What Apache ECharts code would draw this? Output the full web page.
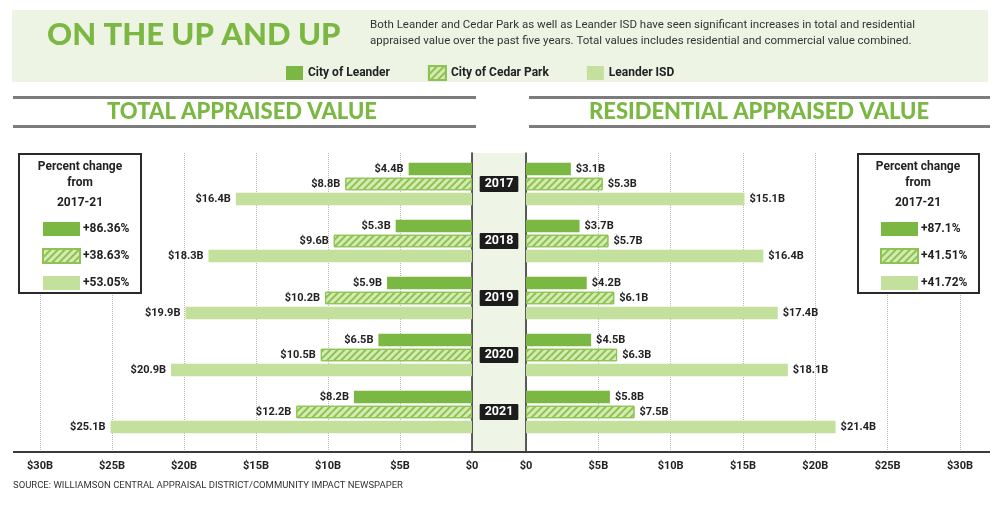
<!DOCTYPE html>
<html>
<head>
<meta charset="utf-8">
<script src="https://cdn.jsdelivr.net/npm/echarts@6/dist/echarts.min.js"></script>
<style>
  html, body { margin: 0; padding: 0; background: #fff; }
  #chart { width: 1000px; height: 505px; }
</style>
</head>
<body>
<div id="chart"></div>
<script>
var years = ['2017', '2018', '2019', '2020', '2021'];
var seriesNames = ['City of Leander', 'City of Cedar Park', 'Leander ISD'];

// total appraised value, $ billions
var totalLeander = [4.4, 5.3, 5.9, 6.5, 8.2];
var totalCedarPark = [8.8, 9.6, 10.2, 10.5, 12.2];
var totalISD = [16.4, 18.3, 19.9, 20.9, 25.1];

// residential appraised value, $ billions
var resLeander = [3.1, 3.7, 4.2, 4.5, 5.8];
var resCedarPark = [5.3, 5.7, 6.1, 6.3, 7.5];
var resISD = [15.1, 16.4, 17.4, 18.1, 21.4];

// percent change 2017-21
var totalPct = ['+86.36%', '+38.63%', '+53.05%'];
var resPct = ['+87.1%', '+41.51%', '+41.72%'];

var axisMax = 30;
var axisStep = 5;

var green = '#7bb743';
var lightGreen = '#c4e09d';
var hatchFill = '#d6eab3';
var hatchLine = '#8cc352';
var txt = '#222';
var condensed = 'Roboto, "Open Sans", sans-serif';
var heavy = 'Lato, "Open Sans", sans-serif';

function money(v) {
	return v === 0 ? '$0' : '$' + v + 'B';
}

var hatchDecal = {
	symbol: 'rect',
	symbolSize: 1,
	dashArrayX: [1, 0],
	dashArrayY: [1.6, 2.2],
	rotation: -Math.PI / 4,
	color: hatchLine
};

function barStyle(i) {
	if (i == 0) return { color: green };
	if (i == 1) return { color: hatchFill, borderColor: hatchLine, borderWidth: 1, decal: hatchDecal };
	return { color: lightGreen };
}

function makeSeries(data, idx, gridIdx, side) {
	return {
		name: seriesNames[idx],
		type: 'bar',
		xAxisIndex: gridIdx,
		yAxisIndex: gridIdx,
		barWidth: 12.5,
		barGap: '20%',
		itemStyle: barStyle(idx),
		label: {
			show: true,
			position: side,
			distance: 5,
			formatter: function (p) { return money(p.value); },
			color: txt,
			fontWeight: 'bold',
			fontSize: 11,
			fontFamily: condensed
		},
		data: data
	};
}

var barTop = 155.5;
var barHeight = 285;
var frameTop = 153;
var frameBottom = 53;

var frameX = {
	type: 'value', min: 0, max: axisMax, interval: axisStep,
	axisLine: { show: false },
	axisTick: { show: false },
	splitLine: { show: true, lineStyle: { type: 'dotted', color: '#b8b8b8', width: 1 } },
	axisLabel: { formatter: money, color: txt, fontWeight: 'bold', fontSize: 11, fontFamily: condensed, margin: 9 }
};

function frameY(pos) {
	return {
		type: 'value', min: 0, max: 1, position: pos,
		axisLine: { show: true, onZero: false, lineStyle: { color: '#2a2a2a', width: 1.5 } },
		axisTick: { show: false }, axisLabel: { show: false }, splitLine: { show: false }
	};
}

function pctLegend(left, labels) {
	return {
		orient: 'vertical',
		left: left, top: 217,
		icon: 'rect',
		itemWidth: 37, itemHeight: 14, itemGap: 12,
		selectedMode: false,
		z: 10,
		data: seriesNames,
		formatter: function (name) { return labels[seriesNames.indexOf(name)]; },
		textStyle: { color: txt, fontWeight: 'bold', fontSize: 12, fontFamily: condensed, padding: [0, 0, 0, -2] }
	};
}

var option = {
	animation: false,
	backgroundColor: '#fff',
	grid: [
		{ left: 40, right: 528, top: barTop, height: barHeight },
		{ left: 526, right: 40, top: barTop, height: barHeight },
		{ left: 40, right: 528, top: frameTop, bottom: frameBottom },
		{ left: 526, right: 40, top: frameTop, bottom: frameBottom }
	],
	xAxis: [
		{ gridIndex: 0, type: 'value', min: 0, max: axisMax, inverse: true, show: false },
		{ gridIndex: 1, type: 'value', min: 0, max: axisMax, show: false },
		Object.assign({ gridIndex: 2, inverse: true }, frameX),
		Object.assign({ gridIndex: 3 }, frameX)
	],
	yAxis: [
		{ gridIndex: 0, type: 'category', inverse: true, data: years, show: false },
		{
			gridIndex: 1, type: 'category', inverse: true, data: years,
			axisLine: { show: false }, axisTick: { show: false },
			axisLabel: {
				align: 'center', margin: 27,
				color: '#fff', backgroundColor: '#1c1c1c',
				padding: [2, 5, 1, 5], borderRadius: 1,
				fontWeight: 'bold', fontSize: 12.5, fontFamily: condensed
			}
		},
		Object.assign({ gridIndex: 2 }, frameY('right')),
		Object.assign({ gridIndex: 3 }, frameY('left'))
	],
	legend: [
		{
			left: 281, top: 60,
			icon: 'rect',
			itemWidth: 17, itemHeight: 14, itemGap: 38,
			selectedMode: false,
			data: seriesNames,
			textStyle: { color: txt, fontWeight: 'bold', fontSize: 12, fontFamily: condensed }
		},
		pctLegend(37, totalPct),
		pctLegend(875, resPct)
	],
	graphic: [
		{ type: 'rect', z: -5, shape: { x: 12, y: 10, width: 976, height: 72 }, style: { fill: '#eef4e4' } },
		{ type: 'text', left: 47, top: 19, style: { text: 'ON THE UP AND UP', fill: green, font: '900 31px ' + heavy } },
		{ type: 'text', left: 370, top: 17, style: { text: 'Both Leander and Cedar Park as well as Leander ISD have seen significant increases in total and residential\nappraised value over the past five years. Total values includes residential and commercial value combined.', fill: '#333', font: '11.5px ' + condensed, lineHeight: 16 } },

		{ type: 'rect', shape: { x: 13, y: 96, width: 463, height: 3 }, style: { fill: '#7c7c7c' } },
		{ type: 'rect', shape: { x: 13, y: 125, width: 463, height: 3 }, style: { fill: '#7c7c7c' } },
		{ type: 'rect', shape: { x: 529, y: 96, width: 461, height: 3 }, style: { fill: '#7c7c7c' } },
		{ type: 'rect', shape: { x: 529, y: 125, width: 461, height: 3 }, style: { fill: '#7c7c7c' } },
		{ type: 'text', x: 242, y: 112, style: { text: 'TOTAL APPRAISED VALUE', fill: green, font: '900 22px ' + heavy, align: 'center', verticalAlign: 'middle' } },
		{ type: 'text', x: 759, y: 112, style: { text: 'RESIDENTIAL APPRAISED VALUE', fill: green, font: '900 22px ' + heavy, align: 'center', verticalAlign: 'middle' } },

		{ type: 'rect', z: -1, shape: { x: 473, y: 153, width: 53, height: 299 }, style: { fill: '#eef5e6' } },
		{ type: 'rect', z: 5, shape: { x: 13, y: 451, width: 977, height: 2 }, style: { fill: '#3a3a3a' } },

		{ type: 'rect', z: 5, shape: { x: 19, y: 154, width: 122, height: 139 }, style: { fill: '#fff', stroke: '#2a2a2a', lineWidth: 2 } },
		{ type: 'text', z: 6, x: 80, y: 175, style: { text: 'Percent change\nfrom', fill: txt, font: 'bold 12px ' + condensed, align: 'center', verticalAlign: 'middle', lineHeight: 16 } },
		{ type: 'text', z: 6, x: 80, y: 203, style: { text: '2017-21', fill: txt, font: 'bold 12px ' + condensed, align: 'center', verticalAlign: 'middle' } },
		{ type: 'rect', z: 5, shape: { x: 858, y: 154, width: 121, height: 139 }, style: { fill: '#fff', stroke: '#2a2a2a', lineWidth: 2 } },
		{ type: 'text', z: 6, x: 918, y: 175, style: { text: 'Percent change\nfrom', fill: txt, font: 'bold 12px ' + condensed, align: 'center', verticalAlign: 'middle', lineHeight: 16 } },
		{ type: 'text', z: 6, x: 918, y: 203, style: { text: '2017-21', fill: txt, font: 'bold 12px ' + condensed, align: 'center', verticalAlign: 'middle' } },

		{ type: 'text', left: 13, top: 481, style: { text: 'SOURCE: WILLIAMSON CENTRAL APPRAISAL DISTRICT/COMMUNITY IMPACT NEWSPAPER', fill: '#333', font: '9.5px ' + condensed } }
	],
	series: [
		makeSeries(totalLeander, 0, 0, 'left'),
		makeSeries(totalCedarPark, 1, 0, 'left'),
		makeSeries(totalISD, 2, 0, 'left'),
		makeSeries(resLeander, 0, 1, 'right'),
		makeSeries(resCedarPark, 1, 1, 'right'),
		makeSeries(resISD, 2, 1, 'right')
	]
};

var chart = echarts.init(document.getElementById('chart'));
chart.setOption(option);
</script>
</body>
</html>
